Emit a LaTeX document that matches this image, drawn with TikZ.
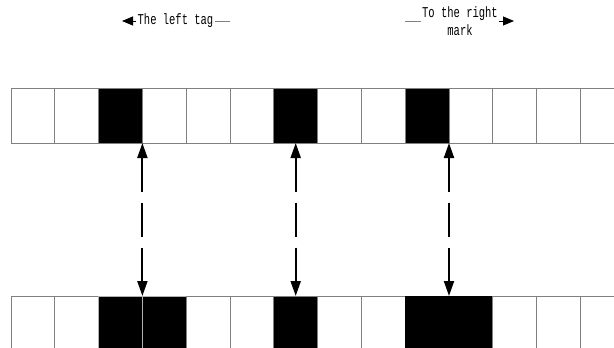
\documentclass[tikz,border=0pt]{standalone}
\usepackage{fontspec}
\newfontfamily\tagfont[FakeStretch=0.7]{Liberation Mono}
\usetikzlibrary{arrows.meta}

\begin{document}
\begin{tikzpicture}[x=1pt,y=-1pt,
  cell/.style={draw=gray!90,fill=white,line width=0.8pt,minimum width=43.8pt,
    minimum height=55pt,inner sep=0pt,outer sep=0pt},
  tag/.style={font=\tagfont\fontsize{15}{18}\selectfont,text=black,inner sep=1pt,align=center},
  pairarrow/.style={line width=2pt,dash pattern=on 34pt off 11pt,
    {Triangle[length=15pt,width=10pt]}-{Triangle[length=15pt,width=10pt]}}
]
  \useasboundingbox (0,0) rectangle (614,348);
  \def\w{43.8} % cell width
  % Upper strip
  \foreach \i/\f/\d in {0/white/gray,1/white/gray,2/black/gray,3/white/gray,4/white/gray,
      5/white/gray,6/black/gray,7/white/gray,8/white/gray,9/black/gray,10/white/gray,
      11/white/gray,12/white/gray,13/white/gray}
    \node[cell,fill=\f,draw=\d] (t\i) at ({11+\w*\i+0.5*\w}, 115.5) {};
  % Lower strip
  \foreach \i/\f/\d in {0/white/gray,1/white/gray,2/black/gray!60,3/black/gray!60,4/white/gray,
      5/white/gray,6/black/gray,7/white/gray,8/white/gray,9/black/black,10/black/black,
      11/white/gray,12/white/gray,13/white/gray}
    \node[cell,fill=\f,draw=\d] (b\i) at ({11+\w*\i+0.5*\w}, 323.5) {};
  % Correspondence arrows
  \draw[pairarrow] (t2.south east) -- (b2.north east);
  \draw[pairarrow] (t6.south) -- (b6.north);
  \draw[pairarrow] (t9.south east) -- (b9.north east);
  % Labels
  \node[tag] (lefttag) at (175.5,21) {The left tag};
  \coordinate (lefttip) at (122,21);
  \coordinate (leftend) at (230,21);
  \draw[line width=0.8pt,-{Triangle[length=11pt,width=9pt]}] (lefttag.west) -- (lefttip);
  \draw[gray,line width=0.6pt] (lefttag.east) -- (leftend);
  \node[tag] (righttag) at (460,21) {To the right\\mark};
  \coordinate (rightstart) at (405,21);
  \coordinate (righttip) at (514,21);
  \draw[gray,line width=0.6pt] (rightstart) -- (righttag.west);
  \draw[line width=0.8pt,-{Triangle[length=11pt,width=9pt]}] (righttag.east) -- (righttip);
\end{tikzpicture}
\end{document}
